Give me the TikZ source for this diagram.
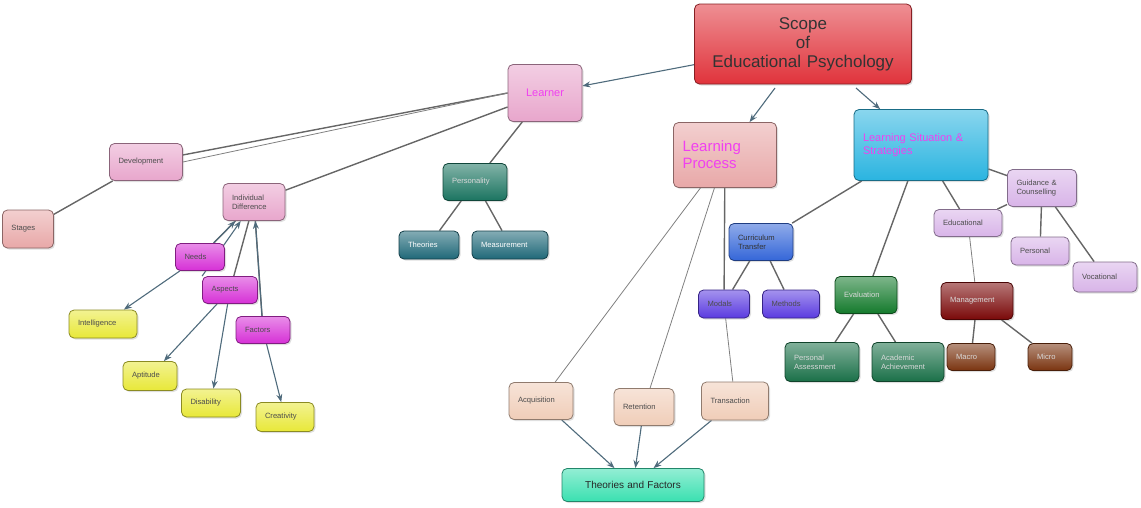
\documentclass[tikz,border=0pt]{standalone}
\usepackage{fontspec}
\setmainfont{Liberation Sans}
\usetikzlibrary{arrows.meta,shadows,backgrounds}
\begin{document}
\begin{tikzpicture}[x=1pt,y=-1pt,
  bx/.style n args={4}{rounded corners=5pt, draw=#3!60!black, line width=0.8pt, top color=#3!55!white, bottom color=#3,
     minimum width=#1pt, minimum height=#2pt, text width=#1pt-18pt, align=left, inner sep=0pt, font=\fontsize{7.6}{9}\selectfont, text=#4,
     drop shadow={opacity=0.25,shadow xshift=1.5pt,shadow yshift=-1.5pt}},
  ln/.style={draw=black!60, line width=1.4pt},
  tl/.style={draw=black!50, line width=0.8pt},
  ar/.style={draw=arc, line width=1.1pt, -{Stealth[length=8pt,width=6pt]}}]
\definecolor{arc}{HTML}{4F6B7C}
\definecolor{red1}{HTML}{E0333B}
\definecolor{pk}{HTML}{E8A6CC}
\definecolor{sal}{HTML}{E8A8A8}
\definecolor{cy}{HTML}{2AB4E0}
\definecolor{mg}{HTML}{D630D6}
\definecolor{yl}{HTML}{E8E838}
\definecolor{tealg}{HTML}{1B7460}
\definecolor{teal2}{HTML}{1F6878}
\definecolor{bl}{HTML}{3466D8}
\definecolor{vb}{HTML}{5A3AE0}
\definecolor{gr}{HTML}{147A2C}
\definecolor{gr2}{HTML}{1A7048}
\definecolor{lav}{HTML}{D8B4E8}
\definecolor{dr}{HTML}{7A0808}
\definecolor{br}{HTML}{7A3410}
\definecolor{pch}{HTML}{F0CDB8}
\definecolor{mint}{HTML}{3AE0B0}
\definecolor{txm}{HTML}{F040F0}
\useasboundingbox (0,0) rectangle (1141,507);
% nodes
\node[bx={217}{80}{red1}{black!80}, align=center, font=\fontsize{17}{19}\selectfont] (scope) at (803,44) {Scope\\of\\Educational Psychology};
\node[bx={74}{57}{pk}{txm}, align=center, font=\fontsize{11}{13}\selectfont] (learner) at (545,93) {Learner};
\node[bx={103}{65}{sal}{txm}, font=\fontsize{15}{17}\selectfont] (lp) at (725,155) {Learning\\Process};
\node[bx={134}{71}{cy}{txm}, font=\fontsize{11}{13}\selectfont] (ls) at (921,145) {Learning Situation \&\\Strategies};
\node[bx={73}{37}{pk}{black!70}] (dev) at (146,162) {Development};
\node[bx={51}{38}{sal}{black!70}] (stages) at (28,229) {Stages};
\node[bx={62}{37}{pk}{black!70}] (ind) at (254,202) {Individual\\Difference};
\node[bx={49}{27}{mg}{black!70}] (needs) at (200,257) {Needs};
\node[bx={55}{27}{mg}{black!70}] (aspects) at (230,290) {Aspects};
\node[bx={54}{27}{mg}{black!70}] (factors) at (263,330) {Factors};
\node[bx={68}{28}{yl}{black!70}] (intel) at (103,324) {Intelligence};
\node[bx={54}{29}{yl}{black!70}] (apt) at (150,376) {Aptitude};
\node[bx={59}{28}{yl}{black!70}] (dis) at (211,403) {Disability};
\node[bx={58}{29}{yl}{black!70}] (cre) at (285,417) {Creativity};
\node[bx={64}{37}{tealg}{white!85!black}] (pers) at (475,182) {Personality};
\node[bx={60}{28}{teal2}{white}] (theo) at (429,245) {Theories};
\node[bx={76}{28}{teal2}{white}] (meas) at (510,245) {Measurement};
\node[bx={64}{37}{bl}{black!80}] (ct) at (761,242) {Curriculum\\Transfer};
\node[bx={51}{28}{vb}{black!70}] (modals) at (724,304) {Modals};
\node[bx={57}{28}{vb}{black!70}] (methods) at (791,304) {Methods};
\node[bx={62}{37}{gr}{white!85!black}] (eval) at (866,295) {Evaluation};
\node[bx={74}{39}{gr2}{white!85!black}] (pa) at (822,362) {Personal\\Assessment};
\node[bx={72}{39}{gr2}{white!85!black}] (aa) at (908,362) {Academic\\Achievement};
\node[bx={68}{27}{lav}{black!70}] (edu) at (968,223) {Educational};
\node[bx={69}{37}{lav}{black!70}] (guid) at (1042,188) {Guidance \&\\Counselling};
\node[bx={58}{28}{lav}{black!70}] (perso) at (1040,251) {Personal};
\node[bx={64}{30}{lav}{black!70}] (voc) at (1105,277) {Vocational};
\node[bx={72}{37}{dr}{white!85!black}] (man) at (977,301) {Management};
\node[bx={48}{27}{br}{white!85!black}] (macro) at (971,357) {Macro};
\node[bx={44}{27}{br}{white!85!black}] (micro) at (1050,357) {Micro};
\node[bx={64}{37}{pch}{black!70}] (acq) at (541,401) {Acquisition};
\node[bx={60}{37}{pch}{black!70}] (ret) at (644,407) {Retention};
\node[bx={67}{38}{pch}{black!70}] (tra) at (735,401) {Transaction};
\node[bx={142}{33}{mint}{black!85}, align=center, font=\fontsize{10}{12}\selectfont] (tf) at (633,485) {Theories and Factors};
\coordinate (s1) at (775,88);
\coordinate (s2) at (856,88);
% connectors
\begin{pgfonlayer}{background}
\draw[ar] (scope) -- (learner);
\draw[ar] (s1) -- (lp);
\draw[ar] (s2) -- (ls);
\draw[ln] (learner.west) -- (dev);
\draw[tl] (dev.east) -- (learner.west);
\draw[ln] (learner) -- (ind);
\draw[ln] (learner) -- (pers);
\draw[ln] (dev) -- (stages);
\draw[ln] (pers) -- (theo);
\draw[ln] (pers) -- (meas);
\draw[ln] (ind) -- (needs);
\draw[ln] (ind) -- (aspects);
\draw[ln] (ind) -- (factors);
\draw[ar] (needs) -- (ind);
\draw[ar] (aspects.north west) -- (ind);
\draw[ar] (factors) -- (ind);
\draw[ar] (needs) -- (intel);
\draw[ar] (aspects) -- (apt);
\draw[ar] (aspects) -- (dis);
\draw[ar] (factors) -- (cre);
\draw[tl] (lp) -- (acq);
\draw[tl] (lp) -- (ret);
\draw[ln] (lp) -- (modals);
\draw[tl] (modals) -- (tra);
\draw[ln] (ct) -- (modals);
\draw[ln] (ct) -- (methods);
\draw[ln] (ls) -- (ct);
\draw[ln] (ls) -- (eval);
\draw[ln] (ls) -- (edu);
\draw[ln] (ls) -- (guid);
\draw[ln] (edu) -- (guid);
\draw[tl] (edu) -- (man);
\draw[ln] (guid) -- (perso);
\draw[ln] (guid) -- (voc);
\draw[ln] (eval) -- (pa);
\draw[ln] (eval) -- (aa);
\draw[ln] (man) -- (macro);
\draw[ln] (man) -- (micro);
\draw[ar] (acq) -- (tf);
\draw[ar] (ret) -- (tf);
\draw[ar] (tra) -- (tf);
\end{pgfonlayer}
\end{tikzpicture}
\end{document}
